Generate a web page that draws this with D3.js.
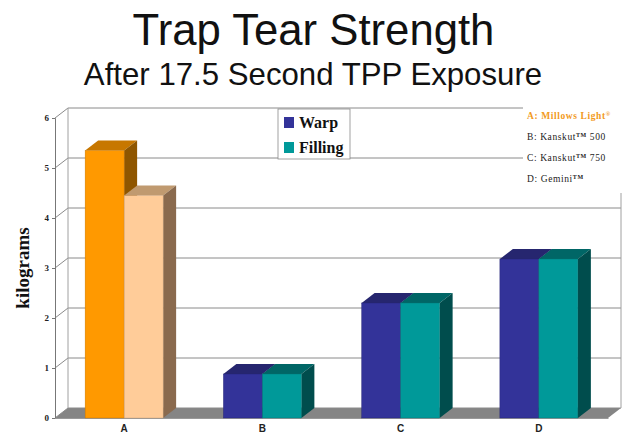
<!DOCTYPE html>
<html><head><meta charset="utf-8">
<style>html,body{margin:0;padding:0;background:#fff}svg{display:block}</style>
<script src="https://cdn.jsdelivr.net/npm/d3@7"></script></head>
<body><svg id="chart" width="633" height="441"></svg>
<script>
const categories = ["A", "B", "C", "D"];
const seriesNames = ["Warp", "Filling"];
const warp = [5.35, 0.88, 2.3, 3.18];
const filling = [4.45, 0.88, 2.3, 3.18];
const yTicks = [0, 1, 2, 3, 4, 5, 6];
const fabricNotes = [
  {label: "A: Millows Light", mark: "®", color: "#f29a1c"},
  {label: "B: Kanskut", mark: "TM", tail: " 500", color: "#222"},
  {label: "C: Kanskut", mark: "TM", tail: " 750", color: "#222"},
  {label: "D: Gemini", mark: "TM", color: "#222"}
];
const warpColors = ["#ff9900", "#333399", "#333399", "#333399"];
const fillingColors = ["#ffcc99", "#009999", "#009999", "#009999"];

const svg = d3.select("#chart");
const font = "'Liberation Serif', serif";
const sans = "'Liberation Sans', Arial, sans-serif";
const depthX = 13, depthY = 10;

const y = d3.scaleLinear().domain([0, 6]).range([418, 118]);
const x = d3.scaleBand().domain(categories).range([55, 608]);
const groupWidth = 78;
const poly = (pts, fill) => svg.append("polygon")
  .attr("points", pts.map(p => p.join(",")).join(" ")).attr("fill", fill);

// titles
svg.append("text").attr("x", 313.5).attr("y", 45).attr("text-anchor", "middle")
  .attr("font-family", sans).attr("font-size", 43.7).attr("fill", "#111").text("Trap Tear Strength");
svg.append("text").attr("x", 313).attr("y", 85).attr("text-anchor", "middle")
  .attr("font-family", sans).attr("font-size", 31.2).attr("fill", "#111").text("After 17.5 Second TPP Exposure");

// back wall, side wall and floor
const xLeft = x.range()[0], xRight = x.range()[1];
const grid = "#8a8a8a";
poly([[xLeft, y(0)], [xLeft + depthX, y(0) - depthY], [xRight + depthX, y(0) - depthY], [xRight, y(0)]], "#858585");
svg.append("g").selectAll("line").data(yTicks).join("line")
  .attr("x1", xLeft + depthX).attr("x2", xRight + depthX)
  .attr("y1", d => y(d) - depthY).attr("y2", d => y(d) - depthY)
  .attr("stroke", grid).attr("stroke-width", 1);
svg.append("g").selectAll("line").data(yTicks).join("line")
  .attr("x1", xLeft).attr("x2", xLeft + depthX)
  .attr("y1", d => y(d)).attr("y2", d => y(d) - depthY)
  .attr("stroke", grid).attr("stroke-width", 1);
[xLeft + depthX, xRight + depthX].forEach(px =>
  svg.append("line").attr("x1", px).attr("x2", px).attr("y1", y(6) - depthY).attr("y2", y(0) - depthY)
    .attr("stroke", "#a0a0a0").attr("stroke-width", 1));

// value axis
const yAxis = svg.append("g").attr("transform", `translate(${xLeft},0)`)
  .call(d3.axisLeft(y).tickValues(yTicks).tickSize(3).tickFormat(d3.format("d")));
yAxis.selectAll("path,line").attr("stroke", "#777");
yAxis.selectAll("text").attr("font-family", font).attr("font-weight", "bold").attr("font-size", 9).attr("fill", "#222");

// category axis
const xAxis = svg.append("g").attr("transform", `translate(0,${y(0)})`)
  .call(d3.axisBottom(x).tickSize(0).tickPadding(7));
xAxis.select("path").attr("stroke", "#999");
xAxis.selectAll("text").attr("font-family", sans).attr("font-weight", "bold").attr("font-size", 10).attr("fill", "#222");

svg.append("text").attr("transform", "translate(29,268) rotate(-90)").attr("text-anchor", "middle")
  .attr("font-family", font).attr("font-weight", "bold").attr("font-size", 19).attr("fill", "#111").text("kilograms");

// legend box, drawn over the top gridlines
svg.append("rect").attr("x", 278).attr("y", 109).attr("width", 72).attr("height", 50)
  .attr("fill", "#fff").attr("stroke", "#8a8a8a").attr("stroke-width", 0.8);
seriesNames.forEach((name, i) => {
  svg.append("rect").attr("x", 284).attr("y", 117 + i * 25).attr("width", 10).attr("height", 11)
    .attr("fill", ["#333399", "#009999"][i]);
  svg.append("text").attr("x", 299).attr("y", 128 + i * 25).attr("font-family", font)
    .attr("font-weight", "bold").attr("font-size", 16).attr("fill", "#111").text(name);
});

// 3-D columns: a top face and side face behind each front face
const barW = 39;
function column(px, value, front, side, top) {
  const t = y(value), b = y(0);
  poly([[px, t], [px + depthX, t - depthY], [px + barW + depthX, t - depthY], [px + barW, t]], top);
  poly([[px + barW, t], [px + barW + depthX, t - depthY], [px + barW + depthX, b - depthY], [px + barW, b]], side);
  svg.append("rect").attr("x", px).attr("y", t).attr("width", barW).attr("height", b - t)
    .attr("fill", front).attr("stroke", d3.color(front).darker(0.8)).attr("stroke-width", 0.4);
}
categories.forEach((c, i) => {
  const start = x(c) + x.bandwidth() / 2 - groupWidth / 2;
  const first = i === 0;
  column(start, warp[i], warpColors[i], first ? "#8f5600" : "#1f1f66", first ? "#c77700" : "#26266f");
  column(start + barW, filling[i], fillingColors[i], first ? "#8a6a4e" : "#004d4d", first ? "#c09a70" : "#006666");
});

// fabric key at the upper right, on a white ground that interrupts the gridlines
svg.append("rect").attr("x", 523).attr("y", 101).attr("width", 110).attr("height", 92).attr("fill", "#fff");
fabricNotes.forEach((n, i) => {
  const t = svg.append("text").attr("x", 527).attr("y", 119 + i * 21)
    .attr("font-family", font).attr("font-size", 9.5).attr("letter-spacing", 0.6)
    .attr("font-weight", i === 0 ? "bold" : "normal").attr("fill", n.color);
  t.append("tspan").text(n.label);
  t.append("tspan").attr("dy", -3).attr("font-size", 6).attr("font-weight", "bold").text(n.mark);
  if (n.tail) t.append("tspan").attr("dy", 3).text(n.tail);
});
</script></body></html>
